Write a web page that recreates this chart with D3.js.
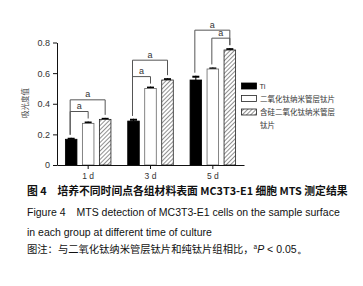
<!DOCTYPE html>
<html><head><meta charset="utf-8">
<script src="https://cdn.jsdelivr.net/npm/d3@7"></script>
<style>
html,body{margin:0;padding:0;background:#fff;}
svg{display:block;}
</style></head>
<body>
<script>
const groups = ["1 d", "3 d", "5 d"];
const seriesNames = ["Ti", "二氧化钛纳米管层钛片", "含硅二氧化钛纳米管层钛片"];
const tiValues = [0.168, 0.287, 0.555];
const tiErrors = [0.010, 0.015, 0.028];
const tntValues = [0.272, 0.500, 0.627];
const tntErrors = [0.012, 0.012, 0.010];
const siValues = [0.298, 0.555, 0.751];
const siErrors = [0.010, 0.012, 0.012];
const yTicks = [0, 0.2, 0.4, 0.6, 0.8];
const yTickLabels = ["0", "0.2", "0.4", "0.6", "0.8"];
// significance brackets: group index, from series, to series, label
const bracketGroups = [0, 0, 1, 1, 2, 2];
const bracketFrom = [0, 0, 0, 0, 0, 1];
const bracketTo = [2, 1, 2, 1, 2, 2];
const bracketLevel = ["outer", "inner", "outer", "inner", "outer", "inner"];
const bracketLabel = ["a", "a", "a", "a", "a", "a"];
const yTitle = "吸光度值";
const caption1 = "图 4　培养不同时间点各组材料表面 MC3T3-E1 细胞 MTS 测定结果";
const caption2 = "Figure 4　MTS detection of MC3T3-E1 cells on the sample surface";
const caption3 = "in each group at different time of culture";
const caption4a = "图注：与二氧化钛纳米管层钛片和纯钛片组相比，";
const caption4b = "P";
const caption4c = " < 0.05。";

const W = 363, H = 286;
const svg = d3.select("body").append("svg").attr("width", W).attr("height", H);
const defs = svg.append("defs");
const pat = defs.append("pattern").attr("id", "hatch").attr("patternUnits", "userSpaceOnUse")
  .attr("width", 3).attr("height", 3).attr("patternTransform", "rotate(45)");
pat.append("rect").attr("width", 3).attr("height", 3).attr("fill", "#fff");
pat.append("line").attr("x1", 0).attr("y1", 0).attr("x2", 0).attr("y2", 3)
  .attr("stroke", "#222").attr("stroke-width", 1);

const sans = "'Liberation Sans', Arial, sans-serif";
const cjk = "'Noto Sans CJK SC', sans-serif";

const x0 = d3.scaleBand().domain(groups).range([57, 244]).padding(0);
const y = d3.scaleLinear().domain([0, 0.8]).range([165, 42.5]);
const x1 = d3.scaleBand().domain([0, 1, 2]).range([-25.5, 25.5]).paddingInner(0.32).paddingOuter(0.16);

const values = [tiValues, tntValues, siValues];
const errors = [tiErrors, tntErrors, siErrors];
const fills = ["#000", "#fff", "url(#hatch)"];
const strokes = ["#000", "#666", "#222"];

const barData = [];
groups.forEach((g, gi) => {
  [0, 1, 2].forEach(si => barData.push({g, gi, si, v: values[si][gi], e: errors[si][gi]}));
});
const barX = d => x0(d.g) + x0.bandwidth() / 2 + x1(d.si);
const barCx = d => barX(d) + x1.bandwidth() / 2;

const eg = svg.append("g");
eg.selectAll("line.ev").data(barData).enter().append("line")
  .attr("x1", barCx).attr("x2", barCx)
  .attr("y1", d => y(d.v)).attr("y2", d => y(d.v + d.e))
  .attr("stroke", "#000").attr("stroke-width", 1);
eg.selectAll("line.ec").data(barData).enter().append("line")
  .attr("x1", d => barCx(d) - 3.5).attr("x2", d => barCx(d) + 3.5)
  .attr("y1", d => y(d.v + d.e) + 1).attr("y2", d => y(d.v + d.e) + 1)
  .attr("stroke", "#000").attr("stroke-width", 2);

svg.append("g").selectAll("rect").data(barData).enter().append("rect")
  .attr("x", barX).attr("width", x1.bandwidth())
  .attr("y", d => y(d.v)).attr("height", d => y(0) - y(d.v))
  .attr("fill", d => fills[d.si]).attr("stroke", d => strokes[d.si]).attr("stroke-width", 0.8);

const yAxis = d3.axisLeft(y).tickValues(yTicks).tickFormat((d, i) => yTickLabels[i]).tickSize(4).tickSizeOuter(0);
const gy = svg.append("g").attr("transform", "translate(57,0)").call(yAxis);
gy.select(".domain").attr("stroke", "#111");
gy.selectAll(".tick line").attr("stroke", "#111");
gy.selectAll(".tick text").attr("font-family", sans).attr("font-size", 9).attr("fill", "#333").attr("x", -7);

const xAxis = d3.axisBottom(x0).tickSize(4).tickSizeOuter(0);
const gx = svg.append("g").attr("transform", "translate(0,165)").call(xAxis);
gx.select(".domain").attr("stroke", "#111");
gx.selectAll(".tick line").attr("stroke", "#111");
gx.selectAll(".tick text").attr("font-family", sans).attr("font-size", 8.5).attr("fill", "#333").attr("y", 8);

svg.append("text").attr("transform", "translate(28,103) rotate(-90)")
  .attr("text-anchor", "middle").attr("font-family", cjk).attr("font-size", 7.5).attr("fill", "#444").text(yTitle);

const bg = svg.append("g");
bracketGroups.forEach((gi, k) => {
  const a = barData.find(d => d.gi === gi && d.si === bracketFrom[k]);
  const b = barData.find(d => d.gi === gi && d.si === bracketTo[k]);
  const topA = y(a.v + a.e), topB = y(b.v + b.e);
  const hatchTop = y(values[2][gi] + errors[2][gi]);
  const lineY = bracketLevel[k] === "outer" ? hatchTop - 18 : Math.min(topA, topB) - 10;
  const xa = barCx(a) - 1, xb = barCx(b);
  bg.append("path").attr("d", `M${xa},${topA - 3}V${lineY}H${xb}V${topB - 3}`)
    .attr("fill", "none").attr("stroke", "#555").attr("stroke-width", 1);
  bg.append("text").attr("x", (xa + xb) / 2).attr("y", lineY - 2.5).attr("text-anchor", "middle")
    .attr("font-family", sans).attr("font-size", 9).attr("fill", "#333").text(bracketLabel[k]);
});

const lg = svg.append("g");
const legY = [83, 95.5, 109];
seriesNames.forEach((n, i) => {
  lg.append("rect").attr("x", 241.5).attr("y", legY[i]).attr("width", 15).attr("height", 6)
    .attr("fill", fills[i]).attr("stroke", i === 0 ? "#000" : "#222").attr("stroke-width", 0.8);
});
lg.append("text").attr("x", 259.5).attr("y", legY[0] + 5.5).attr("font-family", sans).attr("font-size", 7.5).attr("fill", "#333").text(seriesNames[0]);
lg.append("text").attr("x", 260).attr("y", legY[1] + 6).attr("font-family", cjk).attr("font-size", 7.5).attr("fill", "#333").text(seriesNames[1]);
lg.append("text").attr("x", 260).attr("y", legY[2] + 6).attr("font-family", cjk).attr("font-size", 7.5).attr("fill", "#333").text(seriesNames[2].slice(0, 10));
lg.append("text").attr("x", 260).attr("y", legY[2] + 19).attr("font-family", cjk).attr("font-size", 7.5).attr("fill", "#333").text(seriesNames[2].slice(10));

svg.append("text").attr("x", 27).attr("y", 195).attr("font-family", cjk).attr("font-weight", "bold")
  .attr("font-size", 10.8).attr("fill", "#111").text(caption1);
svg.append("text").attr("x", 27).attr("y", 215.5).attr("font-family", sans)
  .attr("font-size", 10.5).attr("fill", "#111").text(caption2);
svg.append("text").attr("x", 27).attr("y", 235.5).attr("font-family", sans)
  .attr("font-size", 10.5).attr("fill", "#111").text(caption3);
const c4 = svg.append("text").attr("x", 27).attr("y", 252.5).attr("font-family", cjk)
  .attr("font-size", 10.3).attr("fill", "#111");
c4.append("tspan").text(caption4a);
c4.append("tspan").attr("font-family", sans).attr("font-size", 6.5).attr("dy", -4).text("a");
c4.append("tspan").attr("font-family", sans).attr("font-style", "italic").attr("font-size", 10.5).attr("dy", 4).text(caption4b);
c4.append("tspan").attr("font-family", sans).attr("font-size", 10.5).text(caption4c);
</script>
</body></html>
